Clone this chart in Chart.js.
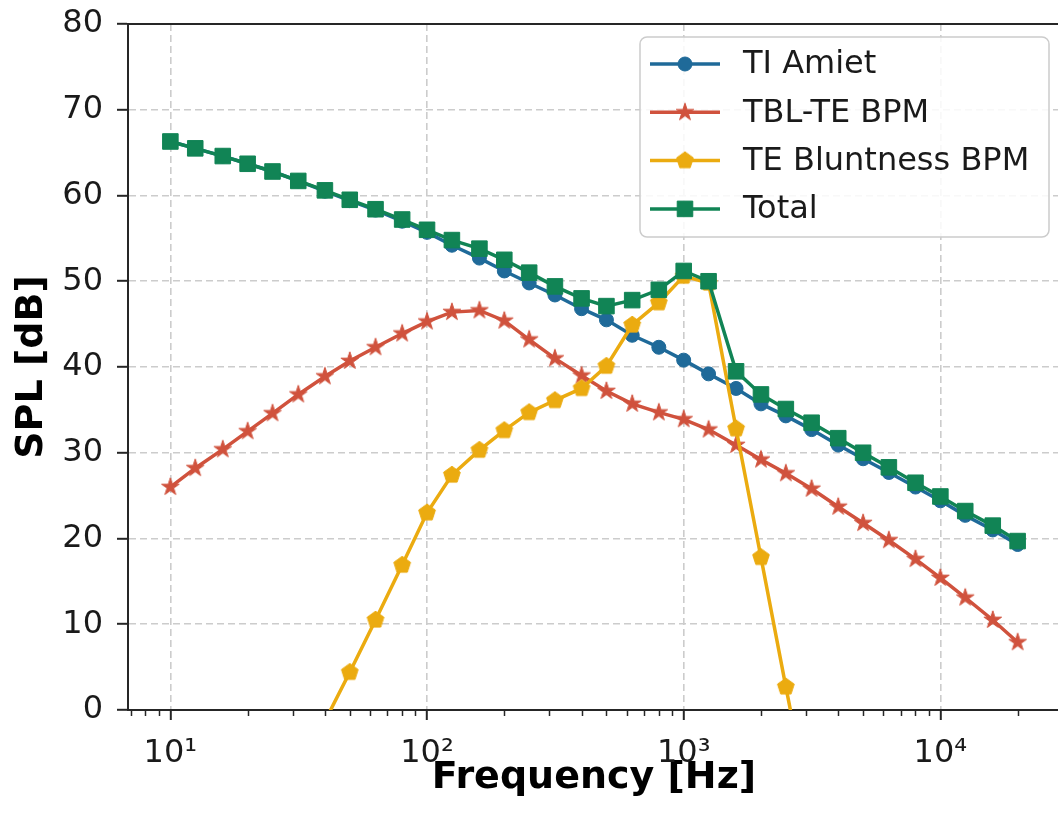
<!DOCTYPE html>
<html><head><meta charset="utf-8">
<script src="https://cdn.jsdelivr.net/npm/chart.js@4.4.1/dist/chart.umd.min.js"></script>
<style>
html,body{margin:0;padding:0;background:#fff;overflow:hidden;width:1058px;height:825px;}
#wrap{position:absolute;left:0;top:0;width:1072px;height:825px;}
</style></head><body>
<div id="wrap"><canvas id="c" width="1072" height="825"></canvas></div>
<script>
// ---- data ----
const frequencies = [10,12.5,16,20,25,31.5,40,50,63,80,100,125,160,200,250,315,400,500,630,800,1000,1250,1600,2000,2500,3150,4000,5000,6300,8000,10000,12500,16000,20000];
const tiAmiet = [66.3,65.5,64.6,63.7,62.8,61.7,60.5,59.4,58.3,57.0,55.7,54.2,52.7,51.2,49.8,48.4,46.8,45.5,43.7,42.3,40.8,39.2,37.5,35.7,34.3,32.7,30.9,29.3,27.7,26.0,24.4,22.7,21.0,19.3];
const tblTeBpm = [26.0,28.2,30.4,32.5,34.6,36.8,38.9,40.7,42.3,43.9,45.3,46.4,46.6,45.4,43.2,41.0,39.0,37.2,35.7,34.7,33.9,32.7,30.9,29.2,27.6,25.8,23.7,21.8,19.8,17.6,15.4,13.1,10.5,7.9];
const teBluntnessBpm = [null,null,null,null,null,null,-1.3,4.4,10.5,16.9,23.0,27.4,30.3,32.6,34.7,36.1,37.5,40.1,44.9,47.5,50.6,49.8,32.8,17.8,2.7,-12.5,null,null,null,null,null,null,null,null];
const total = [66.3,65.5,64.6,63.7,62.8,61.7,60.6,59.5,58.4,57.2,56.0,54.8,53.8,52.5,51.0,49.4,48.0,47.1,47.8,49.0,51.2,50.0,39.5,36.8,35.1,33.5,31.7,30.0,28.3,26.5,24.9,23.2,21.5,19.7];
const seriesLabels = ['TI Amiet','TBL-TE BPM','TE Bluntness BPM','Total'];
const yTickValues = [0,10,20,30,40,50,60,70,80];
const xTickValues = [10,100,1000,10000];
const xTickLabels = ['10\u00B9','10\u00B2','10\u00B3','10\u2074'];
const xAxisTitle = 'Frequency [Hz]';
const yAxisTitle = 'SPL [dB]';

// ---- styles ----
const colors = ['#1f6a99','#d0523d','#ebab10','#118455'];
const FONT = "'DejaVu Sans', 'Liberation Sans', sans-serif";
Chart.defaults.font.family = FONT;
const ink = '#262626';

function makeMarker(kind, color, size, R) {
  const c = document.createElement('canvas');
  c.width = size; c.height = size;
  const g = c.getContext('2d');
  const cx = size/2, cy = size/2;
  g.fillStyle = color; g.strokeStyle = color; g.lineWidth = 1;
  g.beginPath();
  if (kind === 'star') {
    const r = R*0.382;
    for (let i=0;i<10;i++){
      const a = -Math.PI/2 + i*Math.PI/5;
      const rr = (i%2) ? r : R;
      const px = cx + rr*Math.cos(a), py = cy + rr*Math.sin(a);
      if (i) g.lineTo(px,py); else g.moveTo(px,py);
    }
  } else {
    for (let i=0;i<5;i++){
      const a = -Math.PI/2 + i*2*Math.PI/5;
      const px = cx + R*Math.cos(a), py = cy + R*Math.sin(a);
      if (i) g.lineTo(px,py); else g.moveTo(px,py);
    }
  }
  g.closePath(); g.fill(); g.stroke();
  return c;
}
const starImg = makeMarker('star', colors[1], 22, 9.2);
const pentImg = makeMarker('pentagon', colors[2], 22, 8.8);

const pointStyles = ['circle', starImg, pentImg, 'rect'];
const pointRadii = [7, 9, 9, 11];
const seriesValues = [tiAmiet, tblTeBpm, teBluntnessBpm, total];
const drawOrder = [3, 2, 1, 0];

const datasets = seriesValues.map((vals, k) => ({
  label: seriesLabels[k],
  data: frequencies.map((f, i) => ({x: f, y: vals[i]})),
  borderColor: colors[k],
  backgroundColor: colors[k],
  pointBackgroundColor: colors[k],
  pointBorderColor: colors[k],
  pointBorderWidth: 1,
  borderWidth: 3.5,
  pointStyle: pointStyles[k],
  pointRadius: pointRadii[k],
  pointHoverRadius: pointRadii[k],
  tension: 0,
  spanGaps: false,
  clip: 0,
  order: drawOrder[k]
}));

const xMin = Math.pow(10, 1 - 0.05*Math.log10(2000));
const xMax = Math.pow(10, Math.log10(20000) + 0.05*Math.log10(2000));

const decorPlugin = {
  id: 'decor',
  afterDraw(chart) {
    const {ctx, chartArea: a, scales: {x}} = chart;
    ctx.save();
    // top spine
    ctx.strokeStyle = ink; ctx.lineWidth = 2;
    ctx.beginPath(); ctx.moveTo(a.left - 1, a.top); ctx.lineTo(a.right + 1, a.top); ctx.stroke();
    // minor ticks on log axis
    ctx.lineWidth = 1.5;
    for (let e = 0; e <= 4; e++) {
      for (let m = 2; m <= 9; m++) {
        const v = m * Math.pow(10, e);
        if (v < x.min || v > x.max) continue;
        const px = Math.round(x.getPixelForValue(v)) + 0.5;
        ctx.beginPath(); ctx.moveTo(px, a.bottom); ctx.lineTo(px, a.bottom + 6); ctx.stroke();
      }
    }
    // legend
    const bx = 640, by = a.top + 13, bw = 409, bh = 200, rad = 7;
    ctx.fillStyle = 'rgba(255,255,255,0.85)';
    ctx.strokeStyle = '#cccccc'; ctx.lineWidth = 1.5;
    ctx.beginPath();
    ctx.moveTo(bx + rad, by); ctx.lineTo(bx + bw - rad, by); ctx.arcTo(bx + bw, by, bx + bw, by + rad, rad);
    ctx.lineTo(bx + bw, by + bh - rad); ctx.arcTo(bx + bw, by + bh, bx + bw - rad, by + bh, rad);
    ctx.lineTo(bx + rad, by + bh); ctx.arcTo(bx, by + bh, bx, by + bh - rad, rad);
    ctx.lineTo(bx, by + rad); ctx.arcTo(bx, by, bx + rad, by, rad);
    ctx.closePath(); ctx.fill(); ctx.stroke();
    chart.data.datasets.forEach((ds, k) => {
      const cy = by + 27 + k * 48.3;
      ctx.strokeStyle = ds.borderColor; ctx.lineWidth = 3.5;
      ctx.beginPath(); ctx.moveTo(bx + 10, cy); ctx.lineTo(bx + 80, cy); ctx.stroke();
      ctx.fillStyle = ds.pointBackgroundColor; ctx.strokeStyle = ds.pointBorderColor; ctx.lineWidth = 1;
      Chart.helpers.drawPoint(ctx, {pointStyle: ds.pointStyle, radius: ds.pointRadius, rotation: 0, borderWidth: 1}, bx + 45, cy);
      ctx.fillStyle = '#1a1a1a';
      ctx.font = '32px ' + FONT;
      ctx.textAlign = 'left'; ctx.textBaseline = 'middle';
      ctx.fillText(ds.label, bx + 103, cy + 1);
    });
    ctx.restore();
  }
};

new Chart(document.getElementById('c'), {
  type: 'line',
  data: {datasets},
  options: {
    responsive: false, animation: false, devicePixelRatio: 1,
    layout: {padding: {left: 0, top: 24, right: 3, bottom: 0}},
    plugins: {legend: {display: false}, tooltip: {enabled: false}},
    scales: {
      x: {
        type: 'logarithmic', position: 'bottom', min: xMin, max: xMax, bounds: 'data',
        afterBuildTicks: s => { s.ticks = xTickValues.map(v => ({value: v, major: true})); },
        afterFit: s => { s.height = 115; s.paddingLeft = 0; s.paddingRight = 0; },
        ticks: {
          callback: v => { const i = xTickValues.indexOf(v); return i >= 0 ? xTickLabels[i] : ''; },
          font: {size: 32}, color: '#1a1a1a', padding: 14, maxRotation: 0, autoSkip: false
        },
        grid: {color: '#cccccc', lineWidth: 1.6, tickColor: ink, tickLength: 10, tickWidth: 2},
        border: {display: true, color: ink, width: 2, dash: [7, 4]},
        title: {display: true, text: xAxisTitle, color: '#000', font: {size: 38, weight: 'bold'}, padding: {top: 0, bottom: 24}}
      },
      y: {
        type: 'linear', min: 0, max: 80,
        afterBuildTicks: s => { s.ticks = yTickValues.map(v => ({value: v})); },
        afterFit: s => { s.width = 128; s.paddingTop = 0; s.paddingBottom = 0; },
        ticks: {font: {size: 32}, color: '#1a1a1a', padding: 14},
        grid: {color: '#cccccc', lineWidth: 1.6, tickColor: ink, tickLength: 11, tickWidth: 2},
        border: {display: true, color: ink, width: 2, dash: [7, 4]},
        title: {display: true, text: yAxisTitle, color: '#000', font: {size: 38, weight: 'bold'}, padding: {top: 9, bottom: 0}}
      }
    }
  },
  plugins: [decorPlugin]
});
</script>
</body></html>
